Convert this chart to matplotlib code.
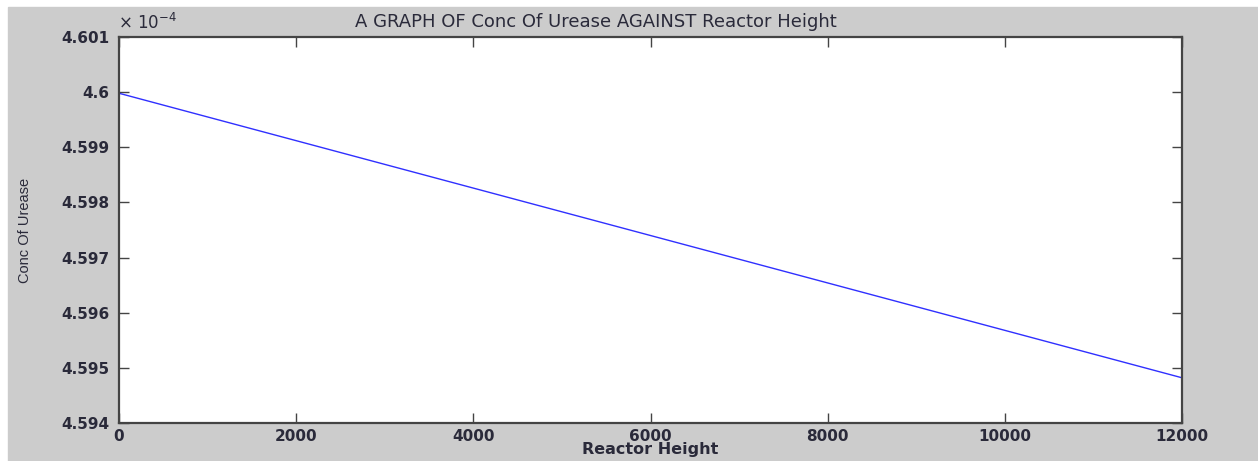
import matplotlib
matplotlib.use('Agg')
import matplotlib.pyplot as plt
from matplotlib.patches import Rectangle
from matplotlib.ticker import FuncFormatter

# data (conc in units of 1e-4)
reactor_height = [0, 2000, 4000, 6000, 8000, 10000, 12000]
conc_urease = [4.59998, 4.59912, 4.59826, 4.59740, 4.59654, 4.59568, 4.59482]
x_ticks = [0, 2000, 4000, 6000, 8000, 10000, 12000]
y_ticks = [4.594, 4.595, 4.596, 4.597, 4.598, 4.599, 4.6, 4.601]

W, H = 1258, 461
fig = plt.figure(figsize=(W / 100, H / 100), dpi=100)
fig.patch.set_facecolor('white')
# MATLAB style gray figure area
fig.patches.append(Rectangle((8 / W, 0), 1 - 8 / W, (H - 7) / H,
                             transform=fig.transFigure, color='#cccccc', zorder=-5))

ax = fig.add_axes([119 / W, 1 - 423 / H, (1182 - 119) / W, (423 - 37) / H])
ax.set_zorder(2)
ax.set_facecolor('white')
ax.plot(reactor_height, conc_urease, color='#3030ff', lw=1.0)

ax.set_xlim(0, 12000)
ax.set_ylim(4.594, 4.601)
ax.set_xticks(x_ticks)
ax.set_yticks(y_ticks)
ax.yaxis.set_major_formatter(FuncFormatter(lambda v, p: '%g' % round(v, 4)))

ax.tick_params(direction='in', length=7, width=1, color='#444444',
               top=True, right=True, labelsize=11, labelcolor='#2a2a3a')
ax.tick_params(axis='y', pad=7)
ax.tick_params(axis='x', pad=4)
for lab in ax.get_xticklabels() + ax.get_yticklabels():
    lab.set_fontweight('bold')
    lab.set_family(['DejaVu Sans'])
for s in ax.spines.values():
    s.set_color('#444444')
    s.set_linewidth(1.6)

# title sits left of centre in the reference
fig.text(596 / W, 1 - 22 / H, 'A GRAPH OF Conc Of Urease AGAINST Reactor Height',
         fontsize=13, family=['DejaVu Sans'], color='#2a2a3a',
         ha='center', va='center', zorder=3)
ax.set_xlabel('Reactor Height', fontsize=11.5, fontweight='bold',
              family=['DejaVu Sans'], color='#2a2a3a', labelpad=-1)
fig.text(25 / W, 1 - 230 / H, 'Conc Of Urease', rotation=90, ha='center', va='center',
         fontsize=10.5, family=['Liberation Sans Narrow', 'Liberation Sans', 'DejaVu Sans'],
         color='#2a2a3a', zorder=3)
fig.text(118 / W, 1 - 29 / H, r'× 10$^{-4}$', fontsize=12,
         family=['DejaVu Sans'], color='#2a2a3a', va='baseline', zorder=3)

fig.savefig('out.png', dpi=100)
